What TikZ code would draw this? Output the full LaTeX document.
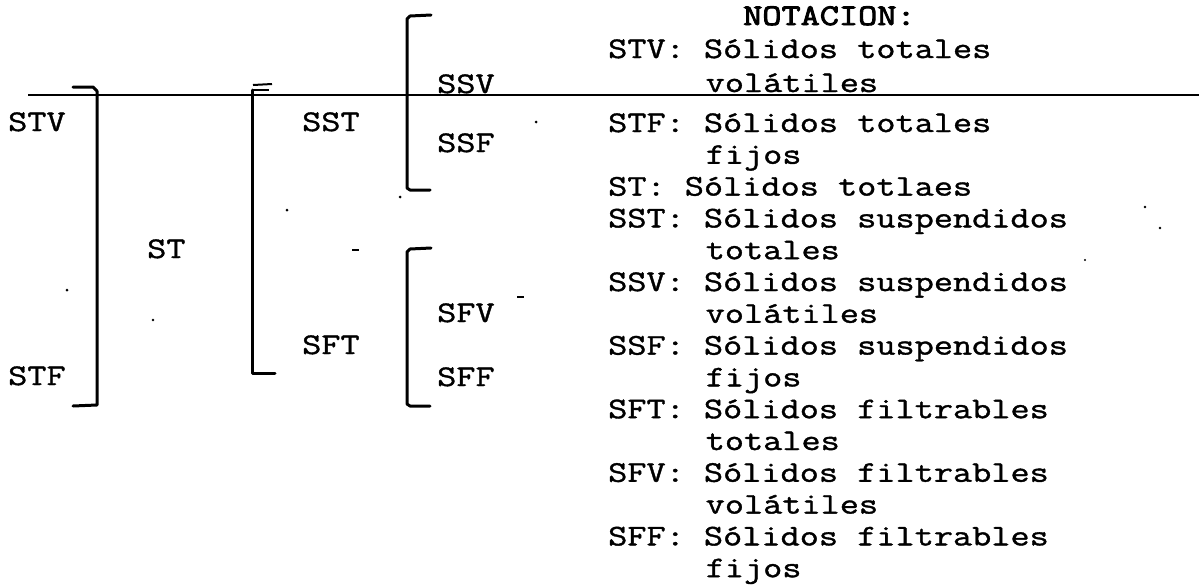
\documentclass[tikz,border=0pt]{standalone}
\usepackage{fontspec}
\newfontfamily\typew[FakeStretch=1.24,FakeBold=1.2]{Latin Modern Mono}
\newfontfamily\typewb[FakeStretch=1.24,FakeBold=3]{Latin Modern Mono}
\begin{document}
\frenchspacing
\begin{tikzpicture}[x=1pt,y=-1pt,
  txt/.style={anchor=base west, inner sep=0pt, text=black,
    font=\typew\fontsize{30}{30}\selectfont},
  btxt/.style={anchor=base west, inner sep=0pt, text=black,
    font=\typewb\fontsize{30}{30}\selectfont},
  brk/.style={line width=3pt, line join=round, line cap=round, black},
  rule/.style={line width=2.6pt, black},
  speck/.style={fill=black, draw=none}]
\path[fill=white] (0,0) rectangle (1199,584);
\useasboundingbox (0,0) rectangle (1199,584);

% legend column
\node[btxt] (nt) at (743,25)    {NOTACION:};
\node[txt] (d1)  at (608,58)    {STV: Sólidos totales};
\node[txt] (d1b) at (705.5,92)  {volátiles};
\node[txt] (d2)  at (608,132)   {STF: Sólidos totales};
\node[txt] (d2b) at (705.5,163.8) {fijos};
\node[txt] (d3)  at (608,195.6) {ST: Sólidos totlaes};
\node[txt] (d4)  at (608,227.4) {SST: Sólidos suspendidos};
\node[txt] (d4b) at (705.5,259.2) {totales};
\node[txt] (d5)  at (608,291)   {SSV: Sólidos suspendidos};
\node[txt] (d5b) at (705.5,322.8) {volátiles};
\node[txt] (d6)  at (608,354.6) {SSF: Sólidos suspendidos};
\node[txt] (d6b) at (705.5,386.4) {fijos};
\node[txt] (d7)  at (608,418.2) {SFT: Sólidos filtrables};
\node[txt] (d7b) at (705.5,450)   {totales};
\node[txt] (d8)  at (608,481.8) {SFV: Sólidos filtrables};
\node[txt] (d8b) at (705.5,513.6) {volátiles};
\node[txt] (d9)  at (608,545.4) {SFF: Sólidos filtrables};
\node[txt] (d9b) at (705.5,577.2) {fijos};

% tree labels
\node[txt] (stv) at (8,131)   {STV};
\node[txt] (stf) at (8,385)   {STF};
\node[txt] (st)  at (147,258) {ST};
\node[txt] (sst) at (302,131) {SST};
\node[txt] (sft) at (302,354) {SFT};
\node[txt] (ssv) at (437,93)  {SSV};
\node[txt] (ssf) at (437,152) {SSF};
\node[txt] (sfv) at (437,322) {SFV};
\node[txt] (sff) at (437,386) {SFF};

% brackets
\draw[brk] (73,87) -- (93,87) -- (97,91) -- (97,405) -- (73,406);
\draw[brk] (252,90) -- (252,373) -- (275,373);
\draw[line width=2pt] (253,85) -- (272,84);
\draw[line width=2pt] (253,90) -- (269,90);
\draw[brk] (431,15) -- (410,16) -- (407,19) -- (407,188) -- (410,190) -- (430,190);
\draw[brk] (431,248) -- (410,249) -- (407,252) -- (407,404) -- (410,406) -- (430,406);

% horizontal rule
\draw[rule] (28,95) -- (1199,95);

% scan specks
\fill[speck] (67,290) circle (1.5);
\fill[speck] (153,320) circle (1.3);
\fill[speck] (287,210) circle (1.5);
\fill[speck] (400,197) circle (1.5);
\fill[speck] (536,122) circle (1.5);
\draw[line width=1.5pt] (352,250) -- (359,250);
\draw[line width=1.5pt] (517,297) -- (524,297);
\fill[speck] (1145,207) circle (1.3);
\fill[speck] (1160,228) circle (1.3);
\fill[speck] (1085,260) circle (1.1);
\end{tikzpicture}
\end{document}
